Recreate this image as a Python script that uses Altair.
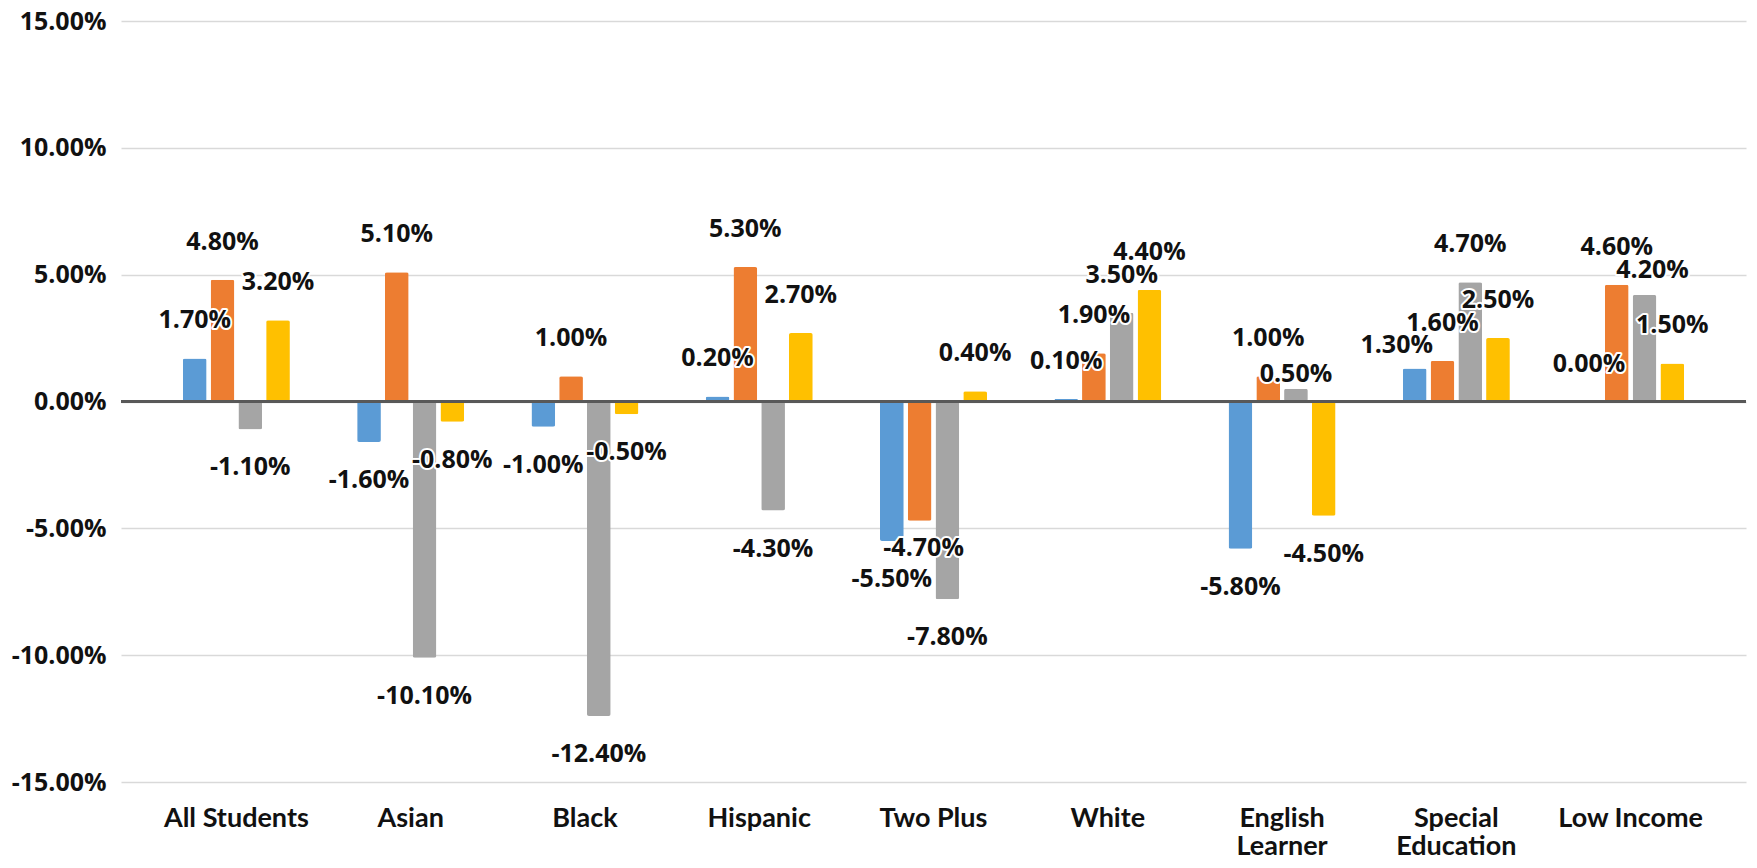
import altair as alt
import pandas as pd

categories = ["All Students", "Asian", "Black", "Hispanic", "Two Plus", "White",
              "English Learner", "Special Education", "Low Income"]
series_names = ["Series 1", "Series 2", "Series 3", "Series 4"]
series1 = [1.7, -1.6, -1.0, 0.2, -5.5, 0.1, -5.8, 1.3, 0.0]
series2 = [4.8, 5.1, 1.0, 5.3, -4.7, 1.9, 1.0, 1.6, 4.6]
series3 = [-1.1, -10.1, -12.4, -4.3, -7.8, 3.5, 0.5, 4.7, 4.2]
series4 = [3.2, -0.8, -0.5, 2.7, 0.4, 4.4, -4.5, 2.5, 1.5]
colors = ["#5B9BD5", "#ED7D31", "#A5A5A5", "#FFC000"]
y_ticks = [-15, -10, -5, 0, 5, 10, 15]

# labels that were moved by hand in the original (category, series, dx, dy in px)
label_nudges = [
    ("Two Plus", "Series 2", 4, 27),
    ("English Learner", "Series 3", 0, -15),
    ("Special Education", "Series 1", -18, -24),
    ("Low Income", "Series 3", 8, -25),
]

rows = []
for name, vals in zip(series_names, [series1, series2, series3, series4]):
    for c, v in zip(categories, vals):
        rows.append({"category": c, "series": name, "value": v})
df = pd.DataFrame(rows)

pct_expr = "(datum.value < 0 ? '-' : '') + format(abs(datum.value), '.2f') + '%'"

x_enc = alt.X(
    "category:N", sort=categories, title=None,
    scale=alt.Scale(paddingInner=0.386, paddingOuter=0.355),
    axis=alt.Axis(
        labelAngle=0, ticks=False, domain=False, labelPadding=23,
        labelFont="Lato", labelFontWeight="bold", labelFontSize=27,
        labelColor="#111111", labelBaseline="top", labelLineHeight=28,
        labelExpr="indexof(['English Learner','Special Education'], datum.value) >= 0 ? split(datum.value, ' ') : datum.value",
    ),
)
xo_enc = alt.XOffset("series:N", sort=series_names,
                     scale=alt.Scale(paddingInner=0.145, paddingOuter=0))
y_enc = alt.Y(
    "value:Q", title=None,
    scale=alt.Scale(domain=[-15, 15], nice=False, zero=False),
    axis=alt.Axis(
        values=y_ticks, ticks=False, domain=False, grid=True,
        gridColor="#D9D9D9", gridWidth=1.5, labelPadding=15,
        labelFont="Open Sans", labelFontWeight="bold", labelFontSize=25,
        labelColor="#111111",
        labelExpr=pct_expr,
    ),
)

base = alt.Chart(df).encode(x=x_enc, xOffset=xo_enc, y=y_enc)

bars = base.mark_bar(cornerRadius=2).encode(
    color=alt.Color("series:N", sort=series_names,
                    scale=alt.Scale(domain=series_names, range=colors),
                    legend=None)
)

zero = alt.Chart(df).mark_rule(color="#595959", strokeWidth=1.5).encode(y=alt.datum(0))

text_base = base.transform_calculate(label=pct_expr)
font_kw = dict(font="Open Sans", fontWeight="bold", fontSize=25, baseline="middle", align="center")


def label_layers(cond, dx, dy):
    t = text_base.transform_filter(cond)
    halo = t.mark_text(dx=dx, dy=dy, stroke="white", strokeWidth=4, strokeJoin="round",
                       fill="white", **font_kw).encode(text="label:N")
    fg = t.mark_text(dx=dx, dy=dy, color="#111111", **font_kw).encode(text="label:N")
    return [halo, fg]


def match(cat, ser):
    return f"(datum.category == '{cat}' && datum.series == '{ser}')"


not_nudged = " && ".join(f"!{match(c, s)}" for c, s, _, _ in label_nudges)

layers = [bars, zero]
layers += label_layers(f"datum.value >= 0 && {not_nudged}", 0, -38)
layers += label_layers(f"datum.value < 0 && {not_nudged}", 0, 38)
for c, s, dx, dy in label_nudges:
    layers += label_layers(match(c, s), dx, dy)

chart = alt.layer(*layers).properties(
    width=1625, height=761,
    autosize=alt.AutoSizeParams(type="none"),
    padding={"left": 113, "top": 13, "right": 3, "bottom": 76},
).configure_view(stroke=None)

chart.save("out.html", embed_options={"renderer": "svg", "actions": False})
